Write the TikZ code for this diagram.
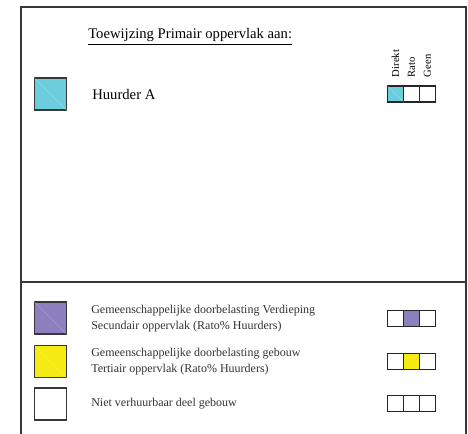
\documentclass[tikz,border=0pt]{standalone}
\usepackage{fontspec}
\setmainfont{Liberation Serif}
\usetikzlibrary{positioning}
\definecolor{huurder}{RGB}{108,205,221}
\definecolor{verdieping}{RGB}{139,127,192}
\definecolor{gebouw}{RGB}{246,235,20}
\definecolor{rand}{RGB}{55,55,55}

\begin{document}
\begin{tikzpicture}[x=0.75pt,y=-0.75pt,
  bigsq/.style={draw=rand,line width=1.1pt,minimum size=24pt,inner sep=0pt},
  cell/.style={draw=black!85,line width=0.9pt,minimum size=12pt,inner sep=0pt},
  txt/.style={anchor=west,inner sep=0pt,font=\fontsize{9}{11}\selectfont,align=left,text=black!80},
  vlab/.style={rotate=90,anchor=west,inner sep=0pt,font=\fontsize{8}{9}\selectfont},
  diag/.style={white,opacity=0.25,line width=0.4pt}]
\useasboundingbox (0,0) rectangle (468,434);
\draw[rand,line width=0.9pt] (21,434) -- (21,7) -- (466,7) -- (466,434);
\draw[rand,line width=0.9pt] (21,282) -- (466,282);
\node[anchor=base west,inner sep=0pt,font=\fontsize{11}{13}\selectfont] (titel) at (88,39) {\underline{Toewijzing Primair oppervlak aan:}};
% huurder
\node[bigsq,fill=huurder] (sqA) at (50.5,94) {};
\node[anchor=west,inner sep=0pt,font=\fontsize{11}{13}\selectfont] (tA) at (92,94) {Huurder A};
\node[cell,fill=huurder] (a1) at (395.5,94) {};
\node[cell,right=-0.9pt of a1] (a2) {};
\node[cell,right=-0.9pt of a2] (a3) {};
\node[vlab,above=6pt of a1.north,anchor=west] (direkt) {Direkt};
\node[vlab,above=6pt of a2.north,anchor=west] (rato) {Rato};
\node[vlab,above=6pt of a3.north,anchor=west] (geen) {Geen};
% verdieping
\node[bigsq,fill=verdieping] (sqV) at (50.5,318) {};
\node[txt] (tV) at (91,319) {Gemeenschappelijke doorbelasting Verdieping\\[1pt]Secundair oppervlak (Rato\% Huurders)};
\node[cell] (v1) at (395.5,318.5) {};
\node[cell,right=-0.9pt of v1,fill=verdieping] (v2) {};
\node[cell,right=-0.9pt of v2] (v3) {};
% gebouw
\node[bigsq,fill=gebouw] (sqG) at (50.5,361.5) {};
\node[txt] (tG) at (91,361.5) {Gemeenschappelijke doorbelasting gebouw\\[1pt]Tertiair oppervlak (Rato\% Huurders)};
\node[cell] (g1) at (395.5,361.5) {};
\node[cell,right=-0.9pt of g1,fill=gebouw] (g2) {};
\node[cell,right=-0.9pt of g2] (g3) {};
% niet verhuurbaar
\node[bigsq] (sqN) at (50.5,404) {};
\node[txt] (tN) at (91,404) {Niet verhuurbaar deel gebouw};
\node[cell] (n1) at (395.5,403.5) {};
\node[cell,right=-0.9pt of n1] (n2) {};
\node[cell,right=-0.9pt of n2] (n3) {};
\draw[diag] (sqA.north west) -- (sqA.south east);
\draw[diag] (sqV.north west) -- (sqV.south east);
\draw[diag] (sqG.north west) -- (sqG.south east);
\draw[diag] (a1.north west) -- (a1.south east);
\end{tikzpicture}
\end{document}
